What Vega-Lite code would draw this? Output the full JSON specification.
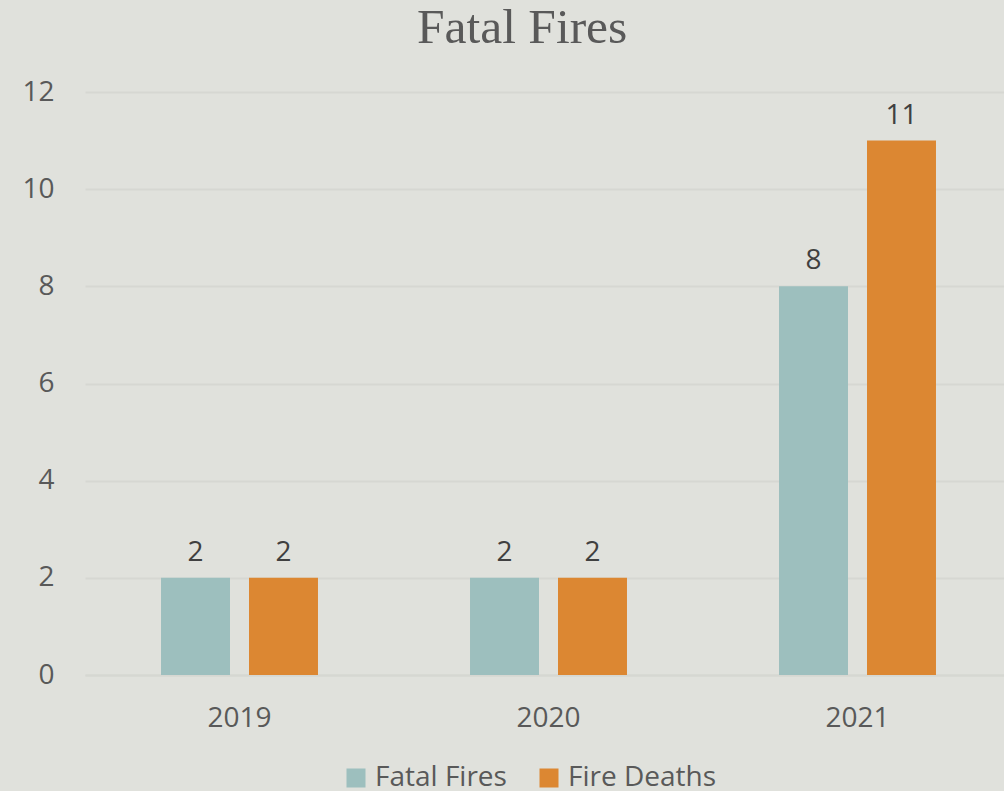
{
  "$schema": "https://vega.github.io/schema/vega-lite/v6.json",
  "autosize": "none",
  "width": 927,
  "height": 583,
  "padding": {"left": 85, "top": 92, "right": 0, "bottom": 116},
  "background": "#e0e1dc",
  "config": {"view": {"stroke": null}, "font": "Open Sans"},
  "title": {
    "text": "Fatal Fires",
    "font": "Liberation Serif",
    "fontSize": 49.5,
    "fontWeight": "normal",
    "color": "#595959",
    "anchor": "start",
    "frame": "group",
    "baseline": "alphabetic",
    "offset": 10,
    "dx": 332,
    "dy": 24
  },
  "data": {
    "values": [
      {"year": "2019", "series": "Fatal Fires", "value": 2},
      {"year": "2019", "series": "Fire Deaths", "value": 2},
      {"year": "2020", "series": "Fatal Fires", "value": 2},
      {"year": "2020", "series": "Fire Deaths", "value": 2},
      {"year": "2021", "series": "Fatal Fires", "value": 8},
      {"year": "2021", "series": "Fire Deaths", "value": 11}
    ]
  },
  "encoding": {
    "x": {
      "field": "year",
      "type": "nominal",
      "title": null,
      "scale": {"paddingInner": 0.492, "paddingOuter": 0.246},
      "axis": {
        "labelAngle": 0,
        "labelFont": "Open Sans",
        "labelFontSize": 28,
        "labelColor": "#595959",
        "labelPadding": 29,
        "ticks": false,
        "tickSize": 0,
        "domain": true,
        "domainColor": "#d6d7d2",
        "domainWidth": 2,
        "grid": false
      }
    },
    "xOffset": {
      "field": "series",
      "type": "nominal",
      "scale": {"paddingInner": 0.216, "paddingOuter": 0}
    },
    "y": {
      "field": "value",
      "type": "quantitative",
      "title": null,
      "scale": {"domain": [0, 12]},
      "axis": {
        "values": [0, 2, 4, 6, 8, 10, 12],
        "labelFont": "Open Sans",
        "labelFontSize": 28,
        "labelColor": "#595959",
        "labelPadding": 31,
        "ticks": false,
        "tickSize": 0,
        "domain": false,
        "gridColor": "#d6d7d2",
        "gridWidth": 2
      }
    }
  },
  "layer": [
    {
      "mark": {"type": "bar"},
      "encoding": {
        "color": {
          "field": "series",
          "type": "nominal",
          "scale": {"domain": ["Fatal Fires", "Fire Deaths"], "range": ["#9dbfbe", "#dc8732"]},
          "legend": {
            "title": null,
            "orient": "none",
            "direction": "horizontal",
            "legendX": 257,
            "legendY": 672,
            "symbolType": "square",
            "symbolSize": 361,
            "symbolStrokeWidth": 0,
            "labelFont": "Open Sans",
            "labelFontSize": 28,
            "labelColor": "#595959",
            "labelOffset": 5,
            "columnPadding": 28
          }
        }
      }
    },
    {
      "mark": {"type": "text", "baseline": "alphabetic", "dy": -17, "font": "Open Sans", "fontSize": 28, "color": "#404040"},
      "encoding": {
        "text": {"field": "value", "type": "quantitative"}
      }
    }
  ]
}
